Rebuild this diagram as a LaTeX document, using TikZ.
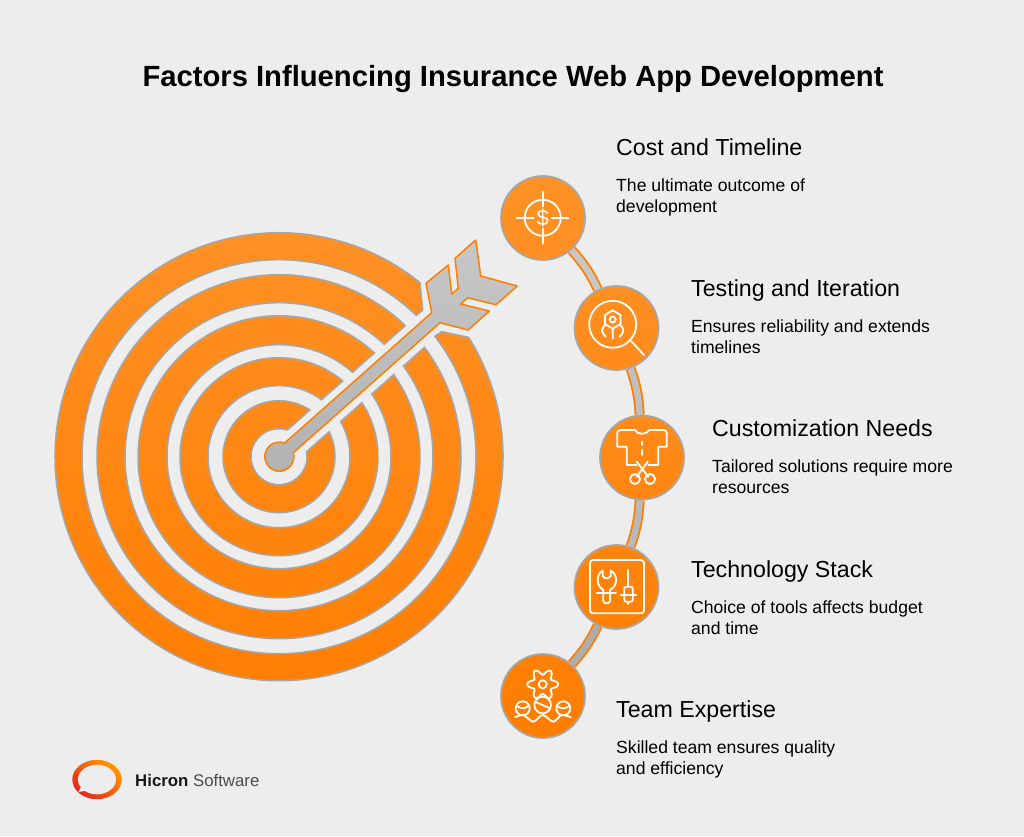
\documentclass[tikz,border=0pt]{standalone}
\usepackage{fontspec}
\setmainfont{Liberation Sans}
\usetikzlibrary{positioning}
\definecolor{paper}{HTML}{EDEDED}
\definecolor{edge}{HTML}{A6A6A6}
\definecolor{ringtop}{HTML}{FF9126}
\definecolor{ringmid}{HTML}{FF7D00}
\definecolor{logotop}{HTML}{FF9A00}
\definecolor{logolow}{HTML}{E5251E}
\tikzstyle{ring} = [draw=edge, line width=1.5pt, top color=ringtop, bottom color=ringmid]
\tikzstyle{stage} = [draw=edge, circle, line width=1.7pt, minimum size=84pt, inner sep=0pt]
\tikzstyle{link} = [draw=ringmid, line width=1.8pt, double distance=6.5pt]
\tikzstyle{icon} = [draw=white, line width=1.8pt, line cap=round, line join=round]
\tikzstyle{heading} = [inner sep=0pt, anchor=base west, font=\fontsize{23.2}{26}\selectfont, text=black]
\tikzstyle{detail} = [inner sep=0pt, align=left, font=\fontsize{17.6}{21}\selectfont, text=black]

\begin{document}
\begin{tikzpicture}[x=1pt, y=-1pt]
    \fill [paper] (0,0) rectangle (1024,836);
    \useasboundingbox (0,0) rectangle (1024,836);

    \node [name=title, font=\bfseries\fontsize{29.2}{32}\selectfont] at (513,79.5) {Factors Influencing Insurance Web App Development};

    % Place the target
    \begin{scope}[shift={(279,456.7)}]
      \path [ring]
        \foreach \ro/\ri [evaluate=\ro as \ao using {asin(14.5/\ro)}, evaluate=\ri as \ai using {asin(14.5/\ri)}] in {56/28, 99/71, 141/112, 182/154} {
          (-41.5+\ao:\ro) arc [start angle=-41.5+\ao, end angle=318.5-\ao, radius=\ro]
          -- (318.5-\ai:\ri) arc [start angle=318.5-\ai, end angle=-41.5+\ai, radius=\ri] -- cycle
        }
        (-32.2:224) arc [start angle=-32.2, end angle=309, radius=224]
        -- (143.7,-146.7) -- (314.2:197) arc [start angle=314.2, end angle=-37.7, radius=197]
        -- (162.7,-125) -- cycle;
    \end{scope}

    % The arrow
    \draw [draw=ringmid, line width=1.5pt, line join=round, top color=black!22, bottom color=black!30]
      (285,442.7) -- (431.7,312.7) -- (426,283.3) -- (448.3,265) -- (451.7,294) -- (458.3,288.3)
      -- (455,258.3) -- (475.7,240) -- (480.7,276) -- (517.3,286) -- (496,304.7) -- (467.7,297.7)
      -- (460.7,304) -- (489.3,311) -- (468.3,330) -- (440,322.7) -- (293.3,452.7)
      arc [start angle=-15.6, end angle=293.2, radius=14.5] -- cycle;

    % Place the stages
    \node [stage, top color=ringtop, bottom color=ringtop!90!ringmid] (cost) at (543,218) {};
    \node [stage, top color=ringtop!90!ringmid, bottom color=ringtop!70!ringmid] (test) at (616.5,328) {};
    \node [stage, top color=ringtop!70!ringmid, bottom color=ringtop!40!ringmid] (custom) at (642,457.5) {};
    \node [stage, top color=ringtop!40!ringmid, bottom color=ringtop!15!ringmid] (tech) at (616.5,587) {};
    \node [stage, top color=ringtop!15!ringmid, bottom color=ringmid] (team) at (543,696) {};

    % Connect the stages
    \draw [link, double=black!22] (cost) to [bend left=8] (test);
    \draw [link, double=black!25] (test) to [bend left=8] (custom);
    \draw [link, double=black!28] (custom) to [bend left=8] (tech);
    \draw [link, double=black!32] (tech) to [bend left=8] (team);

    % The icons
    \draw [icon] (542.7,217.7) circle [radius=18];
    \draw [icon] (516.7,217.7) -- (533.7,217.7) (551.7,217.7) -- (568.7,217.7)
      (542.7,191.7) -- (542.7,206.7) (542.7,228.7) -- (542.7,243.7);
    \node [name=dollar, inner sep=0pt, text=white, font=\fontsize{22}{22}\selectfont] at (542.7,217.7) {\$};

    \draw [icon] (612.7,324.3) circle [radius=23.5] (631.5,341.5) -- (644,355);
    \draw [icon] (612.7,310.3) -- (620.5,315) -- (620.5,324) -- (612.7,328.7) -- (605,324) -- (605,315) -- cycle;
    \draw [icon] (612.7,319.5) circle [radius=3] (612.7,329) -- (612.7,338.5);
    \draw [icon] (605,325) .. controls (601,329) and (601,332) .. (605.7,336.7);
    \draw [icon] (620.4,325) .. controls (624.4,329) and (624.4,332) .. (619.7,336.7);

    \draw [icon] (635,430) .. controls (637,435) and (647,435) .. (649.3,430) -- (663,430)
      .. controls (665.5,430) and (666.7,431) .. (666.7,433) -- (666.7,446.7) -- (658.3,446.7) -- (658.3,465) -- (648.3,465);
    \draw [icon] (635,430) -- (621,430) .. controls (618.5,430) and (617.3,431) .. (617.3,433)
      -- (617.3,446.7) -- (626.7,446.7) -- (626.7,465) -- (636.7,465);
    \draw [icon] (642.3,441.7) -- (642.3,445) (642.3,450) -- (642.3,455);
    \draw [icon] (636.7,461.7) -- (648.3,476.7) (647.7,461.7) -- (636.7,476.7);
    \draw [icon] (635,479) circle [radius=5] (650,479) circle [radius=5];

    \draw [icon, rounded corners=3pt] (590,560) rectangle (644,613.3);
    \draw [icon] (602.7,570.7) .. controls (596,574) and (596,586) .. (603.3,590) -- (603.3,601)
      .. controls (603.3,604) and (610,604) .. (610,601) -- (610,590)
      .. controls (618,586) and (618,574) .. (610.7,570.7) -- (610.7,576)
      .. controls (609,579) and (604.5,579) .. (602.7,576) -- cycle;
    \draw [icon] (596.7,592.7) -- (616,592.7);
    \draw [icon] (628.3,570) -- (628.3,586.7) (620.7,595) -- (636,595) (628.3,601.7) -- (628.3,604);
    \draw [icon, rounded corners=2pt] (624.3,586.7) rectangle (632.7,601.7);

    \draw [icon] plot [domain=0:360, samples=73, smooth] ({542.7+(12.5+3*cos(6*\x))*cos(\x)}, {684.3+(12.5+3*cos(6*\x))*sin(\x)});
    \draw [icon] (542.7,684.3) circle [radius=4];
    \draw [icon] (542.7,705) circle [radius=8.3] (522.7,708.3) circle [radius=7] (563.3,708.3) circle [radius=7];
    \draw [icon] (535.5,702) -- (549.5,708) (517,706) .. controls (521,709) and (524,709) .. (528.5,706)
      (557,706) .. controls (561,709) and (565,709) .. (569.5,706);
    \draw [icon] plot [smooth] coordinates {(515,717.3) (523.3,715) (533.3,721.7) (542.7,715) (553.3,721.7) (561.7,715) (570.7,717.3)};

    % Place the labels
    \node [heading] (costhead) at (616,155) {Cost and Timeline};
    \node [detail, below=24pt of costhead.base west, anchor=north west] (costtext) {The ultimate outcome of\\development};
    \node [heading] (testhead) at (691,296) {Testing and Iteration};
    \node [detail, below=24pt of testhead.base west, anchor=north west] (testtext) {Ensures reliability and extends\\timelines};
    \node [heading] (customhead) at (712,436) {Customization Needs};
    \node [detail, below=24pt of customhead.base west, anchor=north west] (customtext) {Tailored solutions require more\\resources};
    \node [heading] (techhead) at (691,577) {Technology Stack};
    \node [detail, below=24pt of techhead.base west, anchor=north west] (techtext) {Choice of tools affects budget\\and time};
    \node [heading] (teamhead) at (616,717) {Team Expertise};
    \node [detail, below=24pt of teamhead.base west, anchor=north west] (teamtext) {Skilled team ensures quality\\and efficiency};

    % The logo
    \shade [top color=logotop, bottom color=logolow, shading angle=-40] (97,779.5) circle [x radius=24.7, y radius=19.7];
    \fill [paper] (97,779.5) circle [x radius=19, y radius=14.8];
    \fill [paper] (82,785) -- (78.5,792) -- (87,790.5) -- cycle;
    \node [name=logotext, inner sep=0pt, anchor=west, text=black!70, font=\fontsize{16.8}{20}\selectfont] at (135,780.5) {\textcolor{black!90}{\textbf{Hicron}} Software};
\end{tikzpicture}
\end{document}
